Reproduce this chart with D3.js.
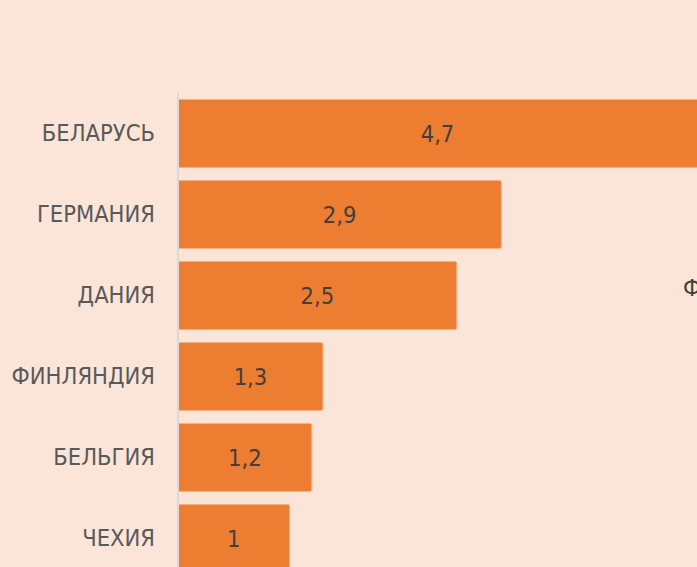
<!DOCTYPE html>
<html lang="ru">
<head>
    <meta charset="UTF-8">
    <title>Bar chart</title>
    <script src="https://d3js.org/d3.v7.min.js"></script>
    <style>
        body {
            margin: 0;
            padding: 0;
            background-color: #fae5d8;
            overflow: hidden;
        }
        svg text {
            font-family: "DejaVu Sans Condensed", "DejaVu Sans", sans-serif;
        }
    </style>
</head>
<body>
    <div id="chart"></div>
    <script>
        const countries = ["БЕЛАРУСЬ", "ГЕРМАНИЯ", "ДАНИЯ", "ФИНЛЯНДИЯ", "БЕЛЬГИЯ", "ЧЕХИЯ"];
        const values = [4.7, 2.9, 2.5, 1.3, 1.2, 1];
        const valueLabels = ["4,7", "2,9", "2,5", "1,3", "1,2", "1"];

        const width = 697;
        const height = 567;

        const svg = d3.select("#chart")
            .append("svg")
            .attr("width", width)
            .attr("height", height);

        svg.append("rect")
            .attr("width", width)
            .attr("height", height)
            .attr("fill", "#fae5d8");

        const x = d3.scaleLinear()
            .domain([0, 1])
            .range([178, 289.5]);

        const y = d3.scaleBand()
            .domain(countries)
            .range([93, 579])
            .paddingInner(0.16)
            .paddingOuter(0.08);

        const rows = countries.map((c, i) => ({ name: c, value: values[i], label: valueLabels[i] }));

        // bars
        svg.selectAll(".bar")
            .data(rows)
            .enter()
            .append("rect")
            .attr("class", "bar")
            .attr("x", x(0))
            .attr("y", d => y(d.name))
            .attr("width", d => x(d.value) - x(0))
            .attr("height", y.bandwidth())
            .attr("rx", 2)
            .attr("fill", "#ed7d31")
            .attr("stroke", "#f4b183")
            .attr("stroke-width", 1);

        // axis
        const axis = svg.append("g")
            .attr("transform", `translate(${x(0)},0)`)
            .call(d3.axisLeft(y).tickSize(0).tickPadding(23));
        axis.select(".domain")
            .attr("stroke", "#d9d9d9")
            .attr("stroke-width", 2)
            .attr("d", "M0,93V567");
        axis.selectAll(".tick text")
            .attr("fill", "#595959")
            .attr("font-size", 23.5)
            .attr("font-family", "DejaVu Sans Condensed, DejaVu Sans, sans-serif");

        // value labels
        svg.selectAll(".val")
            .data(rows)
            .enter()
            .append("text")
            .attr("class", "val")
            .attr("x", d => (x(0) + Math.min(x(d.value), width)) / 2)
            .attr("y", d => y(d.name) + y.bandwidth() / 2)
            .attr("dy", "0.35em")
            .attr("text-anchor", "middle")
            .attr("font-size", 23.5)
            .attr("fill", "#404040")
            .text(d => d.label);

        // clipped text at right edge
        svg.append("text")
            .attr("x", 683)
            .attr("y", 296)
            .attr("font-size", 23.5)
            .attr("fill", "#404040")
            .text("Ф");
    </script>
</body>
</html>
